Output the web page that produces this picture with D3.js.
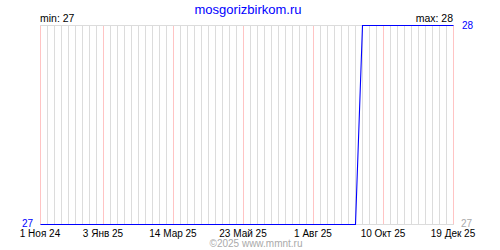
<!DOCTYPE html>
<html>
<head>
<meta charset="utf-8">
<script src="https://cdn.jsdelivr.net/npm/d3@7"></script>
<style>
  body { margin: 0; background: #fff; }
  svg { display: block; font-family: "Liberation Sans", Arial, sans-serif; }
</style>
</head>
<body>
<div id="chart"></div>
<script>
// points where the line changes
const dates = ["2024-11-01", "2025-09-12", "2025-09-19", "2025-12-19"];
const values = [27, 27, 28, 28];
// labelled (red) gridlines
const tickDates = ["2024-11-01", "2025-01-03", "2025-03-14", "2025-05-23", "2025-08-01", "2025-10-10", "2025-12-19"];
const tickLabels = ["1 Ноя 24", "3 Янв 25", "14 Мар 25", "23 Май 25", "1 Авг 25", "10 Окт 25", "19 Дек 25"];
const title = "mosgorizbirkom.ru";
const footer = "©2025 www.mmnt.ru";

const width = 500, height = 250;
const parse = d3.utcParse("%Y-%m-%d");
const data = dates.map((d, i) => ({ date: parse(d), value: values[i] }));

const x = d3.scaleUtc()
  .domain([parse("2024-11-01"), parse("2025-12-19")])
  .range([40, 453]);
const y = d3.scaleLinear()
  .domain([d3.min(values), d3.max(values)])
  .range([224, 25]);

const svg = d3.select("#chart")
  .append("svg")
  .attr("width", width)
  .attr("height", height)
  .attr("viewBox", [0, 0, width, height]);

// weekly gray gridlines
const weeks = d3.utcFriday.range(x.domain()[0], d3.utcDay.offset(x.domain()[1], 1));
svg.append("g")
  .attr("stroke", "#dcdcdc")
  .attr("shape-rendering", "crispEdges")
  .selectAll()
  .data(weeks)
  .join("line")
  .attr("x1", d => Math.round(x(d)) + 0.5)
  .attr("x2", d => Math.round(x(d)) + 0.5)
  .attr("y1", y.range()[1])
  .attr("y2", y.range()[0]);

// red gridlines at labelled dates
svg.append("g")
  .attr("stroke", "#ffc4c4")
  .attr("shape-rendering", "crispEdges")
  .selectAll()
  .data(tickDates.map(parse))
  .join("line")
  .attr("x1", d => Math.round(x(d)) + 0.5)
  .attr("x2", d => Math.round(x(d)) + 0.5)
  .attr("y1", y.range()[1])
  .attr("y2", y.range()[0]);

// top and bottom borders
svg.append("g")
  .attr("stroke", "#dcdcdc")
  .attr("shape-rendering", "crispEdges")
  .selectAll()
  .data([y.range()[1], y.range()[0]])
  .join("line")
  .attr("x1", x.range()[0])
  .attr("x2", x.range()[1] + 1)
  .attr("y1", d => d + 0.5)
  .attr("y2", d => d + 0.5);

// data line
svg.append("path")
  .datum(data)
  .attr("fill", "none")
  .attr("stroke", "#0000ff")
  .attr("stroke-width", 1.1)
  .attr("d", d3.line()
    .x(d => Math.round(x(d.date)) + 0.5)
    .y(d => y(d.value) + 0.5));

// x labels
svg.append("g")
  .attr("font-size", 10)
  .attr("fill", "#000")
  .attr("text-anchor", "middle")
  .selectAll()
  .data(tickDates)
  .join("text")
  .attr("x", d => x(parse(d)))
  .attr("y", 237)
  .text((d, i) => tickLabels[i]);

// y labels
svg.append("text")
  .attr("x", 33).attr("y", 227)
  .attr("text-anchor", "end")
  .attr("font-size", 10)
  .attr("fill", "#0000ff")
  .text(d3.min(values));
svg.append("text")
  .attr("x", 462).attr("y", 29)
  .attr("font-size", 10)
  .attr("fill", "#0000ff")
  .text(d3.max(values));
svg.append("text")
  .attr("x", 461).attr("y", 227)
  .attr("font-size", 10)
  .attr("fill", "#aaaaaa")
  .text(d3.min(values));

// min / max
svg.append("text")
  .attr("x", 40).attr("y", 22)
  .attr("font-size", 10.5)
  .text("min: " + d3.min(values));
svg.append("text")
  .attr("x", 453).attr("y", 22)
  .attr("text-anchor", "end")
  .attr("font-size", 10.5)
  .text("max: " + d3.max(values));

// title and footer
svg.append("text")
  .attr("x", 248).attr("y", 14)
  .attr("text-anchor", "middle")
  .attr("font-size", 13)
  .attr("fill", "#0000ff")
  .text(title);
svg.append("text")
  .attr("x", 256).attr("y", 247)
  .attr("text-anchor", "middle")
  .attr("font-size", 10)
  .attr("fill", "#aaaaaa")
  .text(footer);
</script>
</body>
</html>
